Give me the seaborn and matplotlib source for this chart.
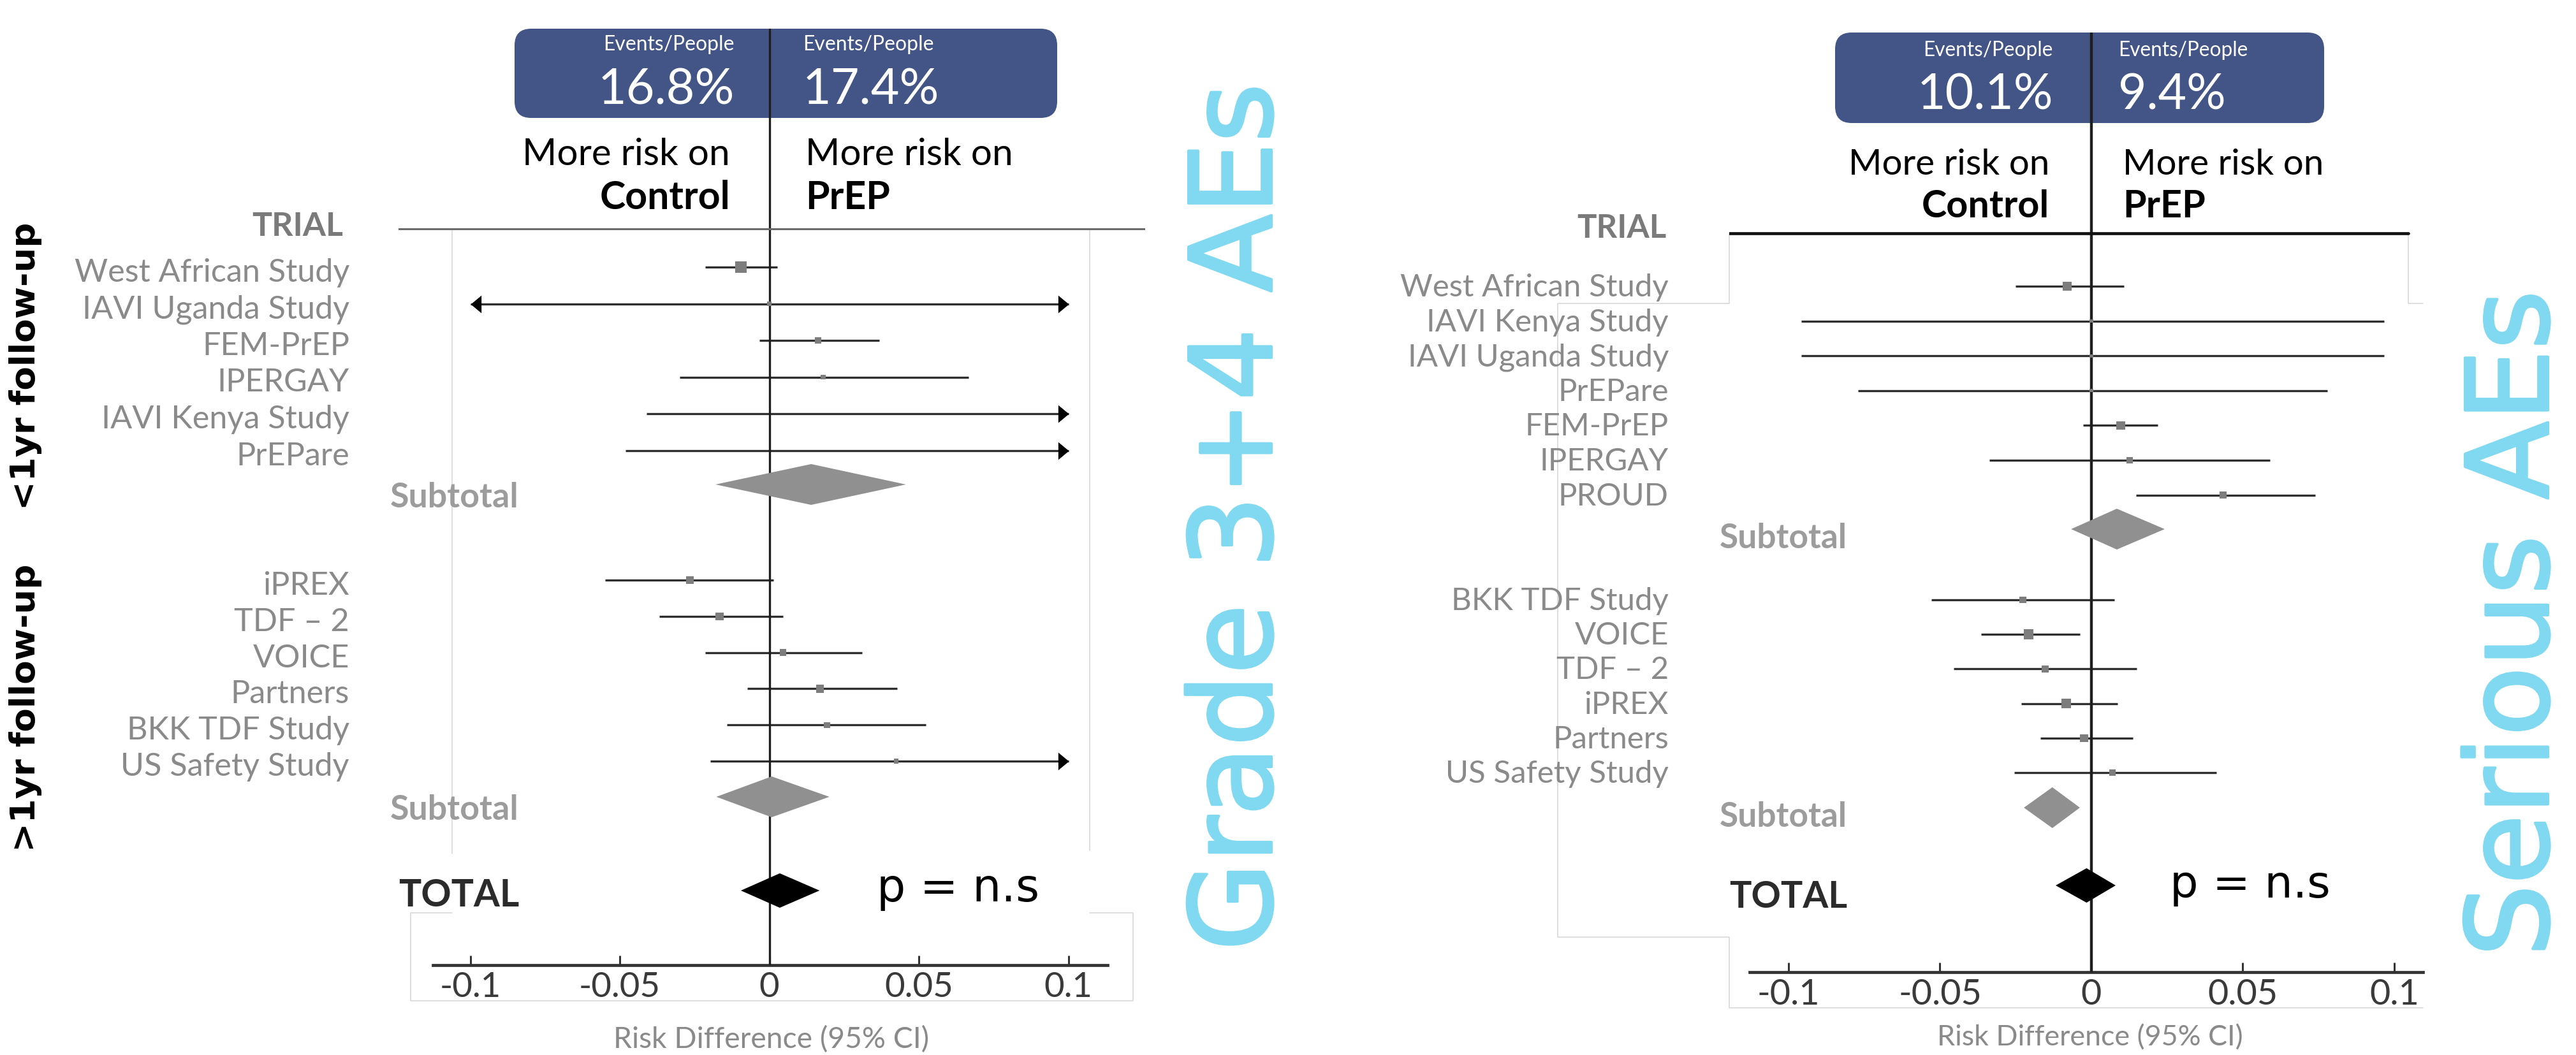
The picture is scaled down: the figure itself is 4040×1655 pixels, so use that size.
import numpy as np
import pandas as pd
import matplotlib
matplotlib.use("Agg")
import matplotlib.pyplot as plt
from matplotlib.patches import FancyBboxPatch
import matplotlib.patheffects as pe
import seaborn as sns

# ------------------------------------------------------------------
# Grade 3+4 adverse events: risk difference (PrEP - control)
# ------------------------------------------------------------------
g34_short_trials = ["West African Study", "IAVI Uganda Study", "FEM-PrEP",
                    "IPERGAY", "IAVI Kenya Study", "PrEPare"]
g34_short_est = [-0.0095, 0.0, 0.0163, 0.018, np.nan, np.nan]
g34_short_lo = [-0.0215, -0.125, -0.0033, -0.030, -0.041, -0.048]
g34_short_hi = [0.0027, 0.135, 0.0367, 0.0666, 0.140, 0.150]
g34_short_wt = [29.0, 3.6, 10.0, 4.9, 0.0, 0.0]
g34_short_sub = [0.014, -0.018, 0.0457]          # estimate, lower, upper

g34_long_trials = ["iPREX", "TDF \u2013 2", "VOICE", "Partners",
                   "BKK TDF Study", "US Safety Study"]
g34_long_est = [-0.0266, -0.0166, 0.0046, 0.017, 0.0193, 0.0424]
g34_long_lo = [-0.055, -0.0367, -0.0215, -0.0073, -0.0141, -0.0198]
g34_long_hi = [0.0014, 0.0046, 0.031, 0.0427, 0.0524, 0.118]
g34_long_wt = [14.4, 14.4, 10.0, 14.4, 8.1, 4.9]
g34_long_sub = [0.0008, -0.0177, 0.0201]
g34_total = [0.0035, -0.0095, 0.0168]
g34_rates = ["16.8%", "17.4%"]                  # control, PrEP

# ------------------------------------------------------------------
# Serious adverse events
# ------------------------------------------------------------------
sae_short_trials = ["West African Study", "IAVI Kenya Study", "IAVI Uganda Study",
                    "PrEPare", "FEM-PrEP", "IPERGAY", "PROUD"]
sae_short_est = [-0.008, 0.0, 0.0, 0.0, 0.0097, 0.0126, 0.0435]
sae_short_lo = [-0.025, -0.0958, -0.0958, -0.077, -0.0027, -0.0336, 0.0148]
sae_short_hi = [0.0107, 0.0966, 0.0966, 0.078, 0.022, 0.059, 0.0738]
sae_short_wt = [20.0, 2.5, 2.5, 2.5, 17.0, 10.0, 10.0]
sae_short_sub = [0.0084, -0.0067, 0.0242]

sae_long_trials = ["BKK TDF Study", "VOICE", "TDF \u2013 2", "iPREX",
                   "Partners", "US Safety Study"]
sae_long_est = [-0.0226, -0.0207, -0.0153, -0.0083, -0.0024, 0.007]
sae_long_lo = [-0.0529, -0.0365, -0.0454, -0.0231, -0.0169, -0.0255]
sae_long_hi = [0.0075, -0.0038, 0.015, 0.0086, 0.0137, 0.0413]
sae_long_wt = [10.0, 22.5, 10.0, 19.6, 14.4, 10.0]
sae_long_sub = [-0.0129, -0.0223, -0.0038]
sae_total = [-0.0016, -0.0118, 0.008]
sae_rates = ["10.1%", "9.4%"]

tick_values = [-0.1, -0.05, 0, 0.05, 0.1]
tick_labels = ["-0.1", "-0.05", "0", "0.05", "0.1"]
x_clip = 0.1

# ------------------------------------------------------------------
W, H, DPI = 4041, 1655, 100
sns.set_theme(style="white")
plt.rcParams["font.family"] = ["Lato", "DejaVu Sans"]
plt.rcParams["axes.unicode_minus"] = False

BOX_BLUE = "#435586"
TITLE_BLUE = "#80d9f0"
LABEL_GREY = "#8a8a8a"
LINE_DARK = "#2e2e2e"
MARK_GREY = "#7d7d7d"
DIAMOND_GREY = "#909090"
FAINT = "#d4d4d4"
ARROW_R = [(-1.2, -1.0), (-1.2, 1.0), (0.0, 0.0)]
ARROW_L = [(1.2, -1.0), (1.2, 1.0), (0.0, 0.0)]

fig = plt.figure(figsize=(W / DPI, H / DPI), dpi=DPI)
fig.patch.set_facecolor("white")
canvas = fig.add_axes([0, 0, 1, 1], zorder=0)
canvas.set_xlim(0, W)
canvas.set_ylim(H, 0)
canvas.axis("off")
renderer = fig.canvas.get_renderer()


def put(x, y, s, width=None, length=None, size=40, **kw):
    """Place text in pixel space; optionally scale it to a given extent."""
    t = canvas.text(x, y, s, fontsize=size, **kw)
    if width is not None or length is not None:
        bb = t.get_window_extent(renderer)
        if width is not None:
            t.set_fontsize(size * width / bb.width)
        else:
            t.set_fontsize(size * length / bb.height)
    return t


def fitted_size(s, width, **kw):
    t = canvas.text(0, 0, s, fontsize=40, **kw)
    w = t.get_window_extent(renderer).width
    t.remove()
    return 40 * width / w


def build(trials, est, lo, hi, wt, y):
    return pd.DataFrame({"trial": trials, "est": est, "lo": lo, "hi": hi,
                         "wt": wt, "y": y})


def draw_panel(p, groups, subs, total, rates):
    x0, y0, x1, y1 = p["box"]
    ax = fig.add_axes([x0 / W, 1 - y1 / H, (x1 - x0) / W, (y1 - y0) / H], zorder=2)
    ax.patch.set_alpha(0)

    # header box with event rates
    bx0, by0, bx1, by1 = p["rate_box"]
    canvas.add_patch(FancyBboxPatch((bx0, by0), bx1 - bx0, by1 - by0,
                                    boxstyle="round,pad=0,rounding_size=26",
                                    facecolor=BOX_BLUE, edgecolor="none", zorder=1))
    ev_fs = fitted_size("Events/People", p["ev_w"])
    rt_fs = fitted_size(rates[0], p["rate_w"])
    put(p["col_r"], p["ev_base"], "Events/People", size=ev_fs, color="white",
        ha="right", va="baseline", zorder=2)
    put(p["col_l"], p["ev_base"], "Events/People", size=ev_fs, color="white",
        ha="left", va="baseline", zorder=2)
    put(p["col_r"], p["rate_base"], rates[0], size=rt_fs, color="white",
        ha="right", va="baseline", zorder=2)
    put(p["col_l"], p["rate_base"], rates[1], size=rt_fs, color="white",
        ha="left", va="baseline", zorder=2)

    mr_fs = fitted_size("More risk on", p["mr_w"])
    bd_fs = fitted_size("Control", p["ctrl_w"], fontweight="bold")
    put(p["dir_r"], p["mr_base"], "More risk on", size=mr_fs, color="black",
        ha="right", va="baseline")
    put(p["dir_l"], p["mr_base"], "More risk on", size=mr_fs, color="black",
        ha="left", va="baseline")
    put(p["dir_r"], p["ctl_base"], "Control", size=bd_fs, color="black",
        fontweight="bold", ha="right", va="baseline")
    put(p["dir_l"], p["ctl_base"], "PrEP", size=bd_fs, color="black",
        fontweight="bold", ha="left", va="baseline")

    put(p["trial_x"], p["trial_base"], "TRIAL", width=p["trial_w"],
        color="#7a7a7a", fontweight="bold", ha="right", va="baseline")

    # study rows
    lab_fs = fitted_size("West African Study", p["lab_w"])
    sub_fs = fitted_size("Subtotal", p["sub_w"], fontweight="bold")
    frames = []
    for df, sub, sub_y in zip(groups, subs, p["sub_y"]):
        frames.append(df)
        for _, r in df.iterrows():
            put(p["lab_x"], r.y + p["lab_off"], r.trial, size=lab_fs,
                color=LABEL_GREY, ha="right", va="baseline")
        e, l, h = sub
        ax.fill([l, e, h, e], [sub_y, sub_y - p["sub_h"], sub_y, sub_y + p["sub_h"]],
                color=DIAMOND_GREY, lw=0, zorder=4)
        put(p["sub_x"], sub_y + p["sub_off"], "Subtotal", size=sub_fs,
            color="#9c9c9c", fontweight="bold", ha="left", va="baseline")
    data = pd.concat(frames, ignore_index=True)

    lo_c = data.lo.clip(-x_clip, x_clip)
    hi_c = data.hi.clip(-x_clip, x_clip)
    ax.hlines(data.y, lo_c, hi_c, color=LINE_DARK, lw=p["ci_lw"], zorder=3)
    over = data[data.hi > x_clip]
    under = data[data.lo < -x_clip]
    ax.plot(np.full(len(over), x_clip), over.y, ls="none", marker=ARROW_R,
            ms=24, color="black", mew=0, zorder=3)
    ax.plot(np.full(len(under), -x_clip), under.y, ls="none", marker=ARROW_L,
            ms=24, color="black", mew=0, zorder=3)

    shown = data.dropna(subset=["est"])
    sns.scatterplot(data=shown, x="est", y="y", size="wt", sizes=(0, 560),
                    size_norm=(0, 100), marker="s", color=MARK_GREY,
                    linewidth=0, legend=False, ax=ax, zorder=5)

    # overall effect
    e, l, h = total
    ty = p["total_y"]
    ax.fill([l, e, h, e], [ty, ty - p["tot_h"], ty, ty + p["tot_h"]],
            color="black", lw=0, zorder=4)
    put(p["tot_x"], ty + p["tot_off"], "TOTAL", width=p["tot_w"], color="#2b2b2b",
        fontweight="bold", ha="left", va="baseline")
    put(p["p_x"], p["p_base"], "p = n.s", width=p["p_w"], color="black",
        family="DejaVu Sans", ha="left", va="baseline")

    # axes styling
    ax.set_xlim((x0 - p["zero"]) / p["unit"], (x1 - p["zero"]) / p["unit"])
    ax.set_ylim(y1, y0)
    ax.set_xlabel("")
    ax.set_ylabel("")
    ax.set_yticks([])
    ax.grid(False)
    for s in ["top", "left", "right"]:
        ax.spines[s].set_visible(False)
    sp = ax.spines["bottom"]
    sp.set_bounds((p["axis_x"][0] - p["zero"]) / p["unit"],
                  (p["axis_x"][1] - p["zero"]) / p["unit"])
    sp.set_color("#333333")
    sp.set_linewidth(3.4)
    ax.set_xticks(tick_values)
    ax.set_xticklabels(tick_labels)
    ax.tick_params(axis="x", direction="in", length=11, width=2.2, color="#333333",
                   pad=7, labelsize=fitted_size("-0.05", p["tick_w"]),
                   labelcolor="#3a3a3a", bottom=True)
    ax.axvline(0, color="#1e1e1e", lw=p["zero_lw"], zorder=3)
    ax.axhline(p["top_y"], xmin=0, xmax=p["top_xmax"], color=p["top_c"],
               lw=p["top_lw"], zorder=3)

    put(p["xl_x"], p["xl_base"], "Risk Difference (95% CI)", width=p["xl_w"],
        color="#8a8a8a", ha="center", va="baseline")

    for seg in p["faint"]:
        xs, ys = zip(*seg)
        canvas.plot(xs, ys, color=FAINT, lw=1.1, zorder=0.5)

    put(p["title_x"], p["title_y"], p["title"], length=p["title_len"],
        color=TITLE_BLUE, family="DejaVu Sans", rotation=90,
        rotation_mode="anchor", ha="center", va="baseline",
        path_effects=[pe.withStroke(linewidth=3, foreground=TITLE_BLUE)])
    return ax


left = dict(
    box=(625, 45, 1796, 1514), zero=1206.5, unit=4690, axis_x=(679, 1737),
    rate_box=(807, 45, 1658, 185), ev_w=205, rate_w=215, col_r=1152, col_l=1259,
    ev_base=79, rate_base=163, mr_w=326, ctrl_w=205, dir_r=1145, dir_l=1263,
    mr_base=259, ctl_base=328, trial_x=538, trial_base=370, trial_w=143,
    lab_w=431, lab_x=548, lab_off=23, sub_w=202, sub_x=612, sub_off=36,
    sub_y=[760, 1250], sub_h=32, total_y=1397, tot_h=27, tot_x=625, tot_off=25,
    tot_w=189, p_x=1375, p_base=1414, p_w=255, tick_w=128, ci_lw=2.4, zero_lw=2.4,
    top_y=359, top_xmax=1.0, top_c="#6a6a6a", top_lw=2.2,
    xl_x=1210, xl_base=1644, xl_w=495,
    faint=[[(709, 359), (709, 1339)], [(1709, 359), (1709, 1334)],
           [(709, 1432), (644, 1432), (644, 1570), (1777, 1570), (1777, 1432),
            (1709, 1432)]],
    title="Grade 3+4 AEs", title_x=1994, title_y=811, title_len=1360,
)

right = dict(
    box=(2712, 51, 3800, 1525), zero=3280, unit=4750, axis_x=(2744, 3800),
    rate_box=(2878, 51, 3645, 193), ev_w=203, rate_w=214, col_r=3220, col_l=3322,
    ev_base=88, rate_base=172, mr_w=315, ctrl_w=200, dir_r=3214, dir_l=3329,
    mr_base=274, ctl_base=341, trial_x=2614, trial_base=373, trial_w=140,
    lab_w=421, lab_x=2617, lab_off=16, sub_w=200, sub_x=2697, sub_off=30,
    sub_y=[830, 1267], sub_h=32, total_y=1389, tot_h=27, tot_x=2712, tot_off=35,
    tot_w=185, p_x=3403, p_base=1408, p_w=251, tick_w=131, ci_lw=2.4, zero_lw=3.2,
    top_y=366, top_xmax=(3777 - 2712) / (3800 - 2712), top_c="#111111", top_lw=3.4,
    xl_x=3278, xl_base=1640, xl_w=479,
    faint=[[(2712, 366), (2712, 476), (2443, 476), (2443, 1470), (2712, 1470),
            (2712, 1581), (3800, 1581)],
           [(3777, 366), (3777, 476), (3800, 476)]],
    title="Serious AEs", title_x=3996, title_y=978, title_len=1045,
)

g34_groups = [
    build(g34_short_trials, g34_short_est, g34_short_lo, g34_short_hi, g34_short_wt,
          419 + 57.5 * np.arange(len(g34_short_trials))),
    build(g34_long_trials, g34_long_est, g34_long_lo, g34_long_hi, g34_long_wt,
          910 + 56.8 * np.arange(len(g34_long_trials))),
]
sae_groups = [
    build(sae_short_trials, sae_short_est, sae_short_lo, sae_short_hi, sae_short_wt,
          449 + 54.6 * np.arange(len(sae_short_trials))),
    build(sae_long_trials, sae_long_est, sae_long_lo, sae_long_hi, sae_long_wt,
          941 + 54.2 * np.arange(len(sae_long_trials))),
]

draw_panel(left, g34_groups, [g34_short_sub, g34_long_sub], g34_total, g34_rates)
draw_panel(right, sae_groups, [sae_short_sub, sae_long_sub], sae_total, sae_rates)

# follow-up duration group labels
for text, yc in [("<1yr follow-up", 574), (">1yr follow-up", 1110)]:
    put(55, yc, text, length=450, color="black", family="DejaVu Sans",
        fontweight="bold", rotation=90, rotation_mode="anchor",
        ha="center", va="baseline")

fig.savefig("out.png", dpi=DPI, facecolor="white")
